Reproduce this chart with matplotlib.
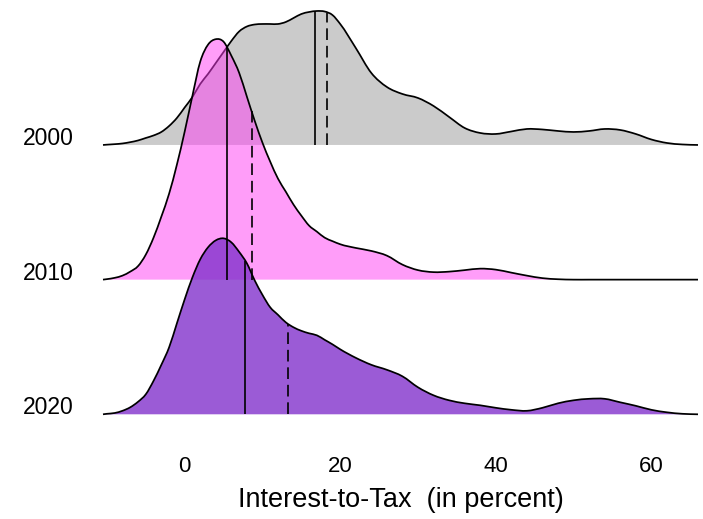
import numpy as np
import matplotlib
matplotlib.use("Agg")
import matplotlib.pyplot as plt
from matplotlib.path import Path
from matplotlib.patches import PathPatch

plt.rcParams["font.family"] = ["Liberation Sans", "DejaVu Sans"]

# Ridge categories (top to bottom) and their baseline positions
years = ["2000", "2010", "2020"]
baselines = [2, 1, 0]

# Evaluation grid for the density curves (interest-to-tax, percent)
x_grid = [-10.5] + list(range(-10, 21)) + list(range(22, 67, 2))

# Relative density heights (one ridge spacing = 134.7 units)
dens_2000 = [0,
             0.3, 0.8, 1.5, 2.8, 4.5, 7, 9.5, 13, 19, 27,
             37.5, 48, 61, 71, 82, 93, 104, 113.5, 118.5, 120.5,
             121, 121, 121, 123, 127, 131, 133, 134, 133.5, 130, 121,
             97, 72, 58, 51, 47, 39, 28, 17, 12, 11, 13.5, 16, 15.5,
             14, 13, 14, 16, 15, 11, 5.5, 2, 0.5, 0]
dens_2010 = [0,
             0.5, 1.8, 4, 8, 13.5, 25, 42, 63, 86, 115,
             148, 184, 218, 235, 240.5, 238, 224, 207, 183, 159,
             137, 118, 101, 88, 75, 64, 54, 48, 42, 38.5, 35.4,
             31.7, 28.7, 24, 15, 9.5, 7.5, 8, 9.5, 11, 10, 7, 4, 1.5,
             0.4, 0, 0, 0, 0, 0, 0, 0, 0, 0]
dens_2020 = [0,
             0.5, 1.3, 3.5, 7, 12.5, 20, 33.5, 49.5, 67, 91,
             115, 137, 155, 167, 174, 176, 172, 162.5, 151, 134,
             119.5, 107, 99.5, 92, 87, 83.5, 81, 79, 74.5, 70, 65,
             56.5, 49.5, 44.5, 38, 27, 19, 14, 11, 9, 6.5, 4.5, 3.5, 6.5,
             11, 14, 15.5, 15.5, 12, 8.5, 4.5, 2, 0.5, 0]
densities = [dens_2000, dens_2010, dens_2020]
ridge_unit = 134.7

# Summary statistics per year: median (solid line) and mean (dashed line)
medians = [16.7, 5.4, 7.8]
means = [18.3, 8.6, 13.3]

fill_colors = [(0.6, 0.6, 0.6, 0.5), (1.0, 0.24, 0.96, 0.5), (0.51, 0.196, 0.80, 0.8)]
tick_values = [0, 20, 40, 60]
x_label = "Interest-to-Tax  (in percent)"


def smooth_curve(xs, ys):
    """Cubic Bezier segments through the given points (weighted central tangents)."""
    xs = np.asarray(xs, float)
    ys = np.asarray(ys, float)
    h = np.diff(xs)
    d = np.diff(ys) / h
    m = np.empty_like(ys)
    m[0], m[-1] = d[0], d[-1]
    for i in range(1, len(ys) - 1):
        m[i] = (d[i - 1] * h[i] + d[i] * h[i - 1]) / (h[i - 1] + h[i])
    verts = [(xs[0], ys[0])]
    codes = [Path.MOVETO]
    for i in range(len(xs) - 1):
        verts += [(xs[i] + h[i] / 3, ys[i] + m[i] * h[i] / 3),
                  (xs[i + 1] - h[i] / 3, ys[i + 1] - m[i + 1] * h[i] / 3),
                  (xs[i + 1], ys[i + 1])]
        codes += [Path.CURVE4] * 3
    return verts, codes


fig = plt.figure(figsize=(7.03, 5.19), dpi=100)
ax = fig.add_axes([103 / 703, (519 - 430) / 519, 595 / 703, 430 / 519])

for year, base, dens, color, med, mean in zip(years, baselines, densities,
                                               fill_colors, medians, means):
    heights = np.asarray(dens) / ridge_unit
    top_y = base + heights
    verts, codes = smooth_curve(x_grid, top_y)

    fill_verts = verts + [(x_grid[-1], base), (x_grid[0], base), (x_grid[0], top_y[0])]
    fill_codes = codes + [Path.LINETO, Path.LINETO, Path.CLOSEPOLY]
    ax.add_patch(PathPatch(Path(fill_verts, fill_codes), facecolor=color,
                           edgecolor="none", clip_on=False))
    ax.add_patch(PathPatch(Path(verts, codes), facecolor="none",
                           edgecolor="black", lw=1.25, clip_on=False))

    for xv, style in ((med, "-"), (mean, (0, (7, 3.5)))):
        hv = np.interp(xv, x_grid, top_y)
        ax.plot([xv, xv], [base, hv], color="black", lw=1.2, linestyle=style,
                solid_capstyle="butt", clip_on=False)

ax.set_xlim(-10.5, 66)
ax.set_ylim(-(430 - 414.3) / ridge_unit, 2 + 145 / ridge_unit)

ax.set_xticks(tick_values)
ax.set_xticklabels([str(v) for v in tick_values], fontsize=16, color="black")
ax.set_yticks(baselines)
ax.set_yticklabels(years, fontsize=16.5, color="black", va="baseline")
ax.tick_params(axis="x", length=0, pad=19)
ax.tick_params(axis="y", length=0, pad=21)
for s in ax.spines.values():
    s.set_visible(False)
ax.patch.set_alpha(0)

fig.text(400.5 / 703, 1 - 500 / 519, x_label, ha="center", va="center",
         fontsize=19.5, color="black")

fig.savefig("out.png", dpi=100)
